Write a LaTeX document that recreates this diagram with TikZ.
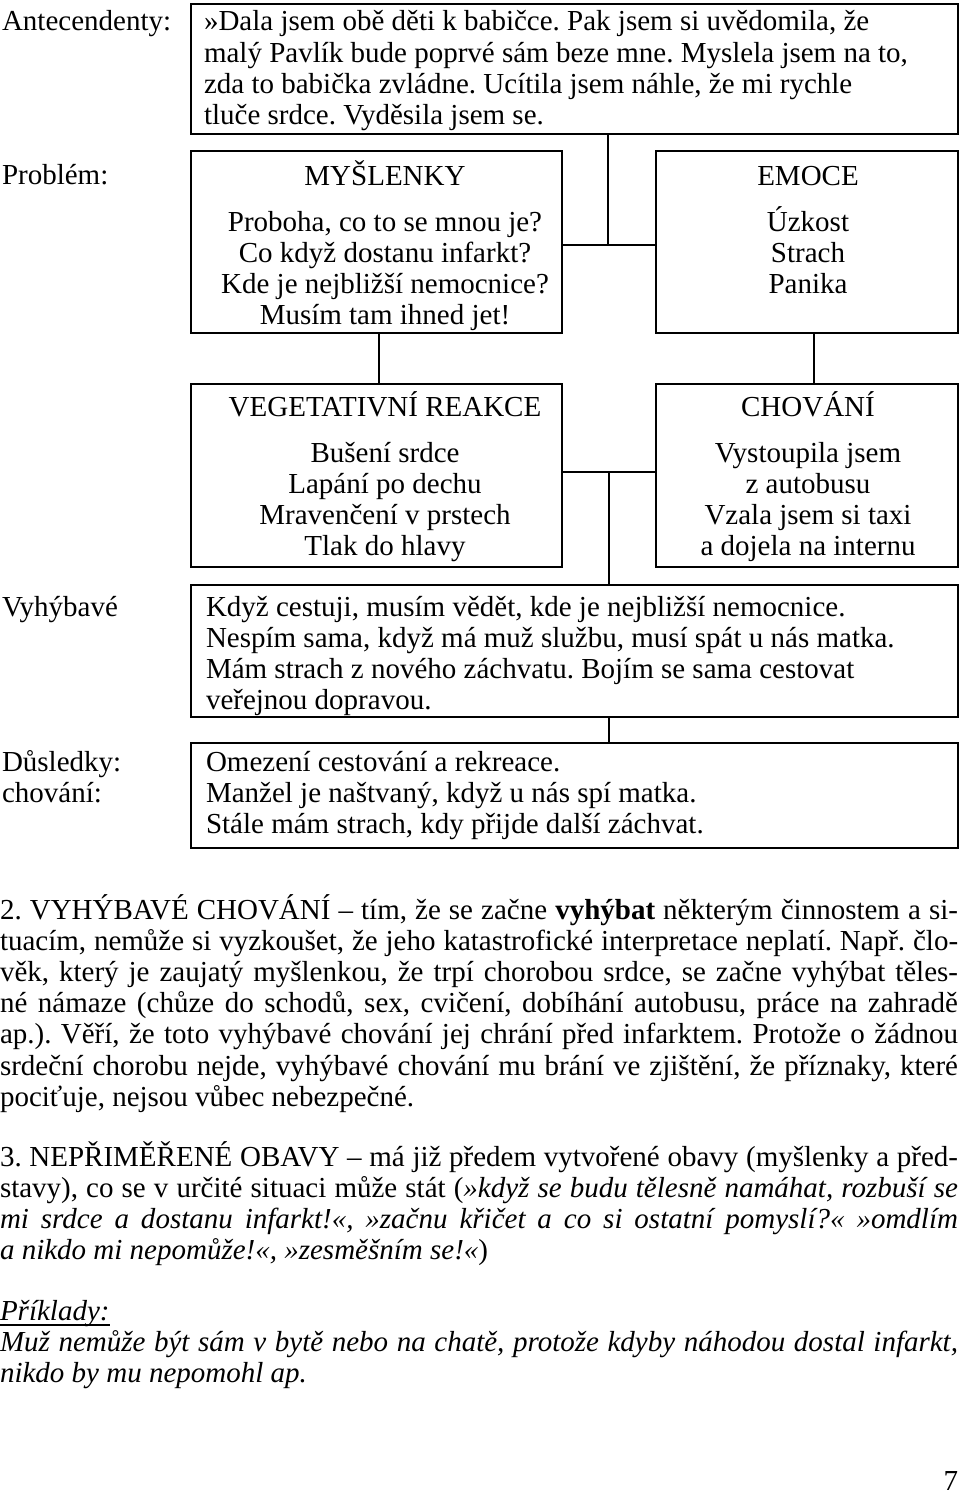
\documentclass[tikz,border=0pt]{standalone}
\usepackage{fontspec}
\setmainfont{Liberation Serif}
\usetikzlibrary{fit}
\newcommand\fs{\fontsize{29bp}{31.2bp}\selectfont\frenchspacing}
\newcommand\fl{\rule{0pt}{28bp}}
\newcommand\jl[1]{\makebox[958bp][s]{#1}}
\begin{document}
\frenchspacing
\begin{tikzpicture}[x=1bp,y=-1bp,
  box/.style={draw, line width=2.2bp, inner sep=0pt, outer sep=0pt},
  conn/.style={line width=2.2bp},
  txt/.style={inner sep=0pt, outer sep=0pt, font=\fs},
  uline/.style={line width=1.3bp}]
\useasboundingbox (0,0) rectangle (960,1496);

% boxes
\node[box, fit={(191,4) (958,134)}] (A) {};
\node[box, fit={(191,151) (562,333)}] (M) {};
\node[box, fit={(656,151) (958,333)}] (E) {};
\node[box, fit={(191,384) (562,567)}] (V) {};
\node[box, fit={(656,384) (958,567)}] (C) {};
\node[box, fit={(191,585) (958,717)}] (Y) {};
\node[box, fit={(191,743) (958,848)}] (D) {};

% connectors
\coordinate (j1) at (608,245);
\coordinate (j2) at (609,472);
\coordinate (x1) at (379,0);
\coordinate (x2) at (814,0);
\draw[conn] (A.south -| j1) -- (j1);
\draw[conn] (M.east |- j1) -- (E.west |- j1);
\draw[conn] (M.south -| x1) -- (V.north -| x1);
\draw[conn] (E.south -| x2) -- (C.north -| x2);
\draw[conn] (V.east |- j2) -- (C.west |- j2);
\draw[conn] (j2) -- (Y.north -| j2);
\draw[conn] (Y.south -| j2) -- (D.north -| j2);

% side labels
\node[txt, anchor=base west] (lAnt) at (2,31) {Antecendenty:};
\node[txt, anchor=base west] (lProb) at (2,185) {Problém:};
\node[txt, anchor=base west] (lVyh) at (2,616) {Vyhýbavé};
\node[txt, anchor=north west, align=left] (lDus) at (2,743) {\fl Důsledky:\\chování:};

% box texts
\node[txt, anchor=north west, align=left] (tA) at (204,3) {\fl»Dala jsem obě děti k babičce. Pak jsem si uvědomila, že\\
malý Pavlík bude poprvé sám beze mne. Myslela jsem na to,\\
zda to babička zvládne. Ucítila jsem náhle, že mi rychle\\
tluče srdce. Vyděsila jsem se.};

\node[txt, anchor=north, align=center] (tM) at (385,157) {\fl MYŠLENKY\\[14.8bp]
Proboha, co to se mnou je?\\
Co když dostanu infarkt?\\
Kde je nejbližší nemocnice?\\
Musím tam ihned jet!};

\node[txt, anchor=north, align=center] (tE) at (808,157) {\fl EMOCE\\[14.8bp]
Úzkost\\
Strach\\
Panika};

\node[txt, anchor=north, align=center] (tV) at (385,388) {\fl VEGETATIVNÍ REAKCE\\[14.8bp]
Bušení srdce\\
Lapání po dechu\\
Mravenčení v prstech\\
Tlak do hlavy};

\node[txt, anchor=north, align=center] (tC) at (808,388) {\fl CHOVÁNÍ\\[14.8bp]
Vystoupila jsem\\
z autobusu\\
Vzala jsem si taxi\\
a dojela na internu};

\node[txt, anchor=north west, align=left] (tY) at (206,588) {\fl Když cestuji, musím vědět, kde je nejbližší nemocnice.\\
Nespím sama, když má muž službu, musí spát u nás matka.\\
Mám strach z nového záchvatu. Bojím se sama cestovat\\
veřejnou dopravou.};

\node[txt, anchor=north west, align=left] (tD) at (206,743) {\fl Omezení cestování a rekreace.\\
Manžel je naštvaný, když u nás spí matka.\\
Stále mám strach, kdy přijde další záchvat.};

% body text
\node[txt, anchor=north west, align=left] (p2) at (0,891) {\fl\jl{2. VYHÝBAVÉ CHOVÁNÍ – tím, že se začne \textbf{vyhýbat} některým činnostem a si-}\\
\jl{tuacím, nemůže si vyzkoušet, že jeho katastrofické interpretace neplatí. Např. člo-}\\
\jl{věk, který je zaujatý myšlenkou, že trpí chorobou srdce, se začne vyhýbat těles-}\\
\jl{né námaze (chůze do schodů, sex, cvičení, dobíhání autobusu, práce na zahradě}\\
\jl{ap.). Věří, že toto vyhýbavé chování jej chrání před infarktem. Protože o žádnou}\\
\jl{srdeční chorobu nejde, vyhýbavé chování mu brání ve zjištění, že příznaky, které}\\
pociťuje, nejsou vůbec nebezpečné.};

\node[txt, anchor=north west, align=left] (p3) at (0,1138) {\fl\jl{3. NEPŘIMĚŘENÉ OBAVY – má již předem vytvořené obavy (myšlenky a před-}\\
\jl{stavy), co se v určité situaci může stát (\textit{»když se budu tělesně namáhat, rozbuší se}}\\
\jl{\textit{mi srdce a dostanu infarkt!«, »začnu křičet a co si ostatní pomyslí?« »omdlím}}\\
\textit{a nikdo mi nepomůže!«, »zesměšním se!«})};

\node[txt, anchor=base west] (P) at (0,1320) {\textit{Příklady:}};
\coordinate (ul) at (0,1325);
\draw[uline] (P.west |- ul) -- (P.east |- ul);

\node[txt, anchor=north west, align=left] (ex) at (0,1323) {\fl\jl{\textit{Muž nemůže být sám v bytě nebo na chatě, protože kdyby náhodou dostal infarkt,}}\\
\textit{nikdo by mu nepomohl ap.}};

\node[txt, anchor=base east] (pg) at (958,1490) {7};
\end{tikzpicture}
\end{document}
